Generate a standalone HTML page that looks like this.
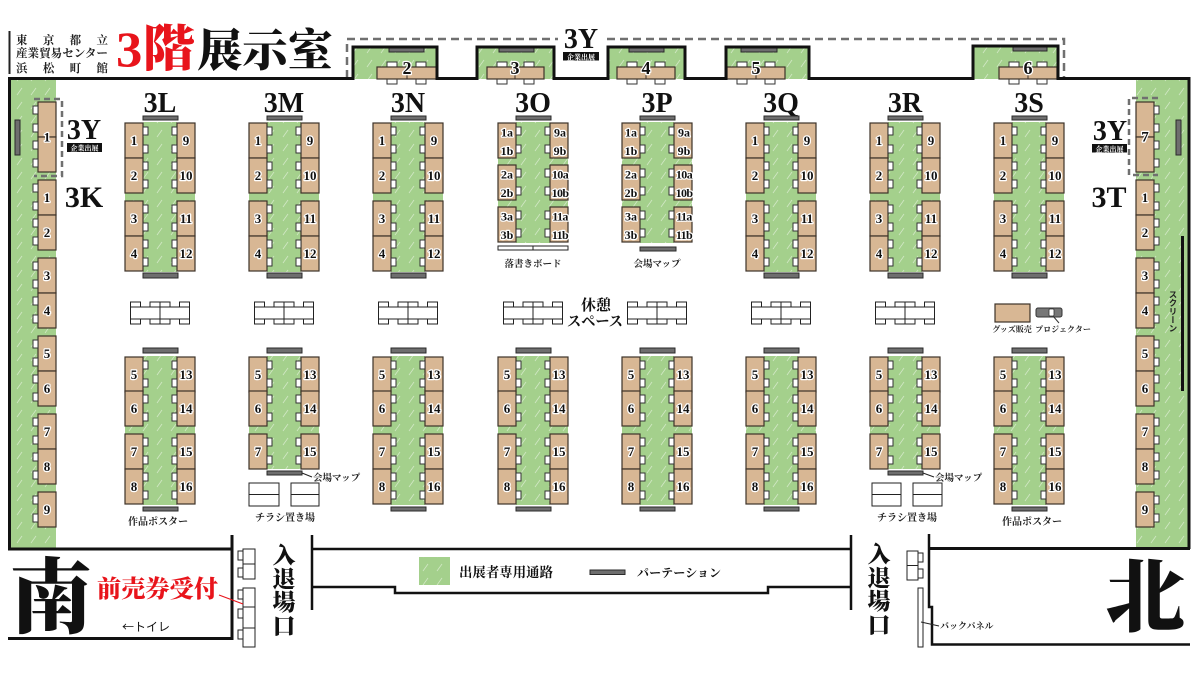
<!DOCTYPE html>
<html><head><meta charset="utf-8"><style>
html,body{margin:0;padding:0;background:#fff;}
svg{display:block}
.d{fill:#d8b794;stroke:#3d3228;stroke-width:1.2}
.c{fill:#fff;stroke:#333;stroke-width:1}
.p{fill:#6e6e6e;stroke:#2a2a2a;stroke-width:1}
.g{fill:url(#gp)}
.n{font-family:"Liberation Serif","Noto Serif CJK SC",serif;font-weight:bold;font-size:13px;text-anchor:middle;fill:#111;stroke:#fff;stroke-width:2.5px;paint-order:stroke;stroke-linejoin:round}
.n2{font-family:"Liberation Serif","Noto Serif CJK SC",serif;font-weight:bold;font-size:12px;text-anchor:middle;fill:#111;stroke:#fff;stroke-width:2.5px;paint-order:stroke;stroke-linejoin:round}
.big{font-family:"Liberation Serif","Noto Serif CJK SC",serif;font-weight:bold;font-size:28px;text-anchor:middle;fill:#111}
.s{font-family:"Liberation Serif","Noto Serif CJK SC",serif;font-weight:bold;font-size:10px;fill:#222}
.sm{text-anchor:middle}
.w{fill:none;stroke:#111;stroke-width:3}
.w2{fill:none;stroke:#111;stroke-width:2.5}
.dash{fill:none;stroke:#707070;stroke-width:2.5;stroke-dasharray:8 5}
.tb{fill:#fff;stroke:#222;stroke-width:1}
</style></head><body>
<svg width="1200" height="675" viewBox="0 0 1200 675" xmlns="http://www.w3.org/2000/svg">
<defs>
<pattern id="gp" width="14" height="14" patternUnits="userSpaceOnUse"><rect width="14" height="14" fill="#a4d08c"/><path d="M3,11 L8,4" stroke="#ffffff" stroke-opacity=".5" stroke-width=".8"/></pattern>
<g id="bL"><rect x="0" y="0" width="18" height="35" fill="#d8b794" stroke="#3d3228" stroke-width="1.2"/><rect x="18" y="4" width="5" height="8" fill="#fff" stroke="#333" stroke-width="1"/><rect x="18" y="22" width="5" height="8" fill="#fff" stroke="#333" stroke-width="1"/></g>
<g id="bR"><rect x="0" y="0" width="18" height="35" fill="#d8b794" stroke="#3d3228" stroke-width="1.2"/><rect x="-5" y="4" width="5" height="8" fill="#fff" stroke="#333" stroke-width="1"/><rect x="-5" y="22" width="5" height="8" fill="#fff" stroke="#333" stroke-width="1"/></g>
<g id="rest" fill="#fff" stroke="#222" stroke-width="1">
<rect x="0" y="0" width="10" height="5"/><rect x="19.5" y="0" width="10" height="5"/><rect x="29.5" y="0" width="10" height="5"/><rect x="49" y="0" width="10" height="5"/>
<rect x="0" y="17" width="10" height="5"/><rect x="19.5" y="17" width="10" height="5"/><rect x="29.5" y="17" width="10" height="5"/><rect x="49" y="17" width="10" height="5"/>
<rect x="0" y="5" width="29.5" height="12"/><rect x="29.5" y="5" width="29.5" height="12"/>
</g>
</defs>

<!-- ===== Header ===== -->
<rect x="8.5" y="31" width="2" height="43" fill="#222"/>
<g font-family="'Liberation Serif','Noto Serif CJK SC',serif" font-weight="bold" font-size="11.5" fill="#222">
<text x="16" y="44" textLength="92" lengthAdjust="spacing">東京都立</text>
<text x="16" y="57" textLength="92" lengthAdjust="spacingAndGlyphs">産業貿易センター</text>
<text x="16" y="72" textLength="92" lengthAdjust="spacing">浜松町館</text>
</g>
<text x="116" y="66" font-family="'Liberation Serif','Noto Serif CJK SC',serif" font-weight="900" font-size="50" fill="#e8141b" textLength="79" lengthAdjust="spacingAndGlyphs">3階</text>
<text x="197" y="66" font-family="'Noto Serif CJK SC',serif" font-weight="900" font-size="45" fill="#111" textLength="136" lengthAdjust="spacingAndGlyphs">展示室</text>

<!-- ===== Green areas ===== -->
<rect x="10" y="78" width="46" height="470" class="g"/>
<rect x="1136" y="78" width="53" height="470" class="g"/>
<rect x="353" y="47" width="84" height="32" class="g"/>
<rect x="477" y="47" width="77" height="32" class="g"/>
<rect x="608" y="47" width="77" height="32" class="g"/>
<rect x="726" y="47" width="83" height="32" class="g"/>
<rect x="973" y="46" width="85" height="33" class="g"/>

<!-- top dashed 3Y -->
<path d="M347,78 V39 H1064 V78" class="dash"/>
<rect x="558" y="28" width="46" height="34" fill="#fff"/>
<text x="581" y="48" class="big">3Y</text>
<rect x="563" y="52" width="36" height="8.5" fill="#111"/>
<text x="581" y="59.3" font-family="'Noto Serif CJK SC',serif" font-weight="bold" font-size="7" fill="#fff" text-anchor="middle">企業出展</text>

<!-- alcove partitions -->
<rect x="389" y="48" width="35" height="4" class="p"/>
<rect x="499" y="48" width="35" height="4" class="p"/>
<rect x="629" y="48" width="35" height="4" class="p"/>
<rect x="741" y="48" width="36" height="4" class="p"/>
<rect x="1013" y="47" width="34" height="4" class="p"/>

<!-- alcove desks -->
<g>
<rect x="387" y="62" width="10" height="5" class="c"/><rect x="416" y="62" width="10" height="5" class="c"/><rect x="387" y="79" width="10" height="5" class="c"/><rect x="416" y="79" width="10" height="5" class="c"/>
<rect x="377" y="67" width="60" height="12" class="d"/><line x1="407" y1="67" x2="407" y2="79" stroke="#3d3228"/>
<rect x="497" y="62" width="10" height="5" class="c"/><rect x="524" y="62" width="10" height="5" class="c"/><rect x="497" y="79" width="10" height="5" class="c"/><rect x="524" y="79" width="10" height="5" class="c"/>
<rect x="487" y="67" width="57" height="12" class="d"/><line x1="515" y1="67" x2="515" y2="79" stroke="#3d3228"/>
<rect x="627" y="62" width="10" height="5" class="c"/><rect x="655" y="62" width="10" height="5" class="c"/><rect x="627" y="79" width="10" height="5" class="c"/><rect x="655" y="79" width="10" height="5" class="c"/>
<rect x="617" y="67" width="58" height="12" class="d"/><line x1="646" y1="67" x2="646" y2="79" stroke="#3d3228"/>
<rect x="737" y="62" width="10" height="5" class="c"/><rect x="765" y="62" width="10" height="5" class="c"/><rect x="737" y="79" width="10" height="5" class="c"/><rect x="765" y="79" width="10" height="5" class="c"/>
<rect x="727" y="67" width="58" height="12" class="d"/><line x1="756" y1="67" x2="756" y2="79" stroke="#3d3228"/>
<rect x="1009" y="62" width="10" height="5" class="c"/><rect x="1037" y="62" width="10" height="5" class="c"/><rect x="1009" y="79" width="10" height="5" class="c"/><rect x="1037" y="79" width="10" height="5" class="c"/>
<rect x="999" y="67" width="58" height="12" class="d"/><line x1="1028" y1="67" x2="1028" y2="79" stroke="#3d3228"/>
</g>
<g class="n" style="font-size:18px">
<text x="407" y="74">2</text><text x="515" y="74">3</text><text x="646" y="74">4</text><text x="756" y="74">5</text><text x="1028" y="74">6</text>
</g>

<!-- ===== Left wall column ===== -->
<rect x="15" y="120" width="5" height="35" class="p"/>
<use href="#bR" x="38" y="102"/><use href="#bR" x="38" y="137"/>
<use href="#bR" x="38" y="180"/><use href="#bR" x="38" y="215"/>
<use href="#bR" x="38" y="258"/><use href="#bR" x="38" y="293"/>
<use href="#bR" x="38" y="336"/><use href="#bR" x="38" y="371"/>
<use href="#bR" x="38" y="414"/><use href="#bR" x="38" y="449"/>
<use href="#bR" x="38" y="492"/>
<path d="M34,99 H62 V176 H34" class="dash" style="stroke-dasharray:6 4"/>
<g class="n">
<text x="47" y="141.5">1</text>
<text x="47" y="202">1</text><text x="47" y="237">2</text><text x="47" y="280">3</text><text x="47" y="315">4</text>
<text x="47" y="358">5</text><text x="47" y="393">6</text><text x="47" y="436">7</text><text x="47" y="471">8</text><text x="47" y="514">9</text>
</g>
<text x="84" y="139" class="big">3Y</text>
<rect x="67" y="143" width="35" height="9" fill="#111"/>
<text x="84.5" y="150.5" font-family="'Noto Serif CJK SC',serif" font-weight="bold" font-size="7" fill="#fff" text-anchor="middle">企業出展</text>
<text x="84" y="207" class="big" style="font-size:30px">3K</text>

<!-- ===== Right wall column ===== -->
<rect x="1176" y="120" width="5" height="35" class="p"/>
<use href="#bL" x="1136" y="102"/><use href="#bL" x="1136" y="137"/>
<use href="#bL" x="1136" y="180"/><use href="#bL" x="1136" y="215"/>
<use href="#bL" x="1136" y="258"/><use href="#bL" x="1136" y="293"/>
<use href="#bL" x="1136" y="336"/><use href="#bL" x="1136" y="371"/>
<use href="#bL" x="1136" y="414"/><use href="#bL" x="1136" y="449"/>
<use href="#bL" x="1136" y="492"/>
<path d="M1158,98 H1129 V175 H1158" class="dash" style="stroke-dasharray:6 4"/>
<g class="n">
<text x="1145" y="141.5" style="font-size:15px">7</text>
<text x="1145" y="202">1</text><text x="1145" y="237">2</text><text x="1145" y="280">3</text><text x="1145" y="315">4</text>
<text x="1145" y="358">5</text><text x="1145" y="393">6</text><text x="1145" y="436">7</text><text x="1145" y="471">8</text><text x="1145" y="514">9</text>
</g>
<text x="1110" y="140" class="big">3Y</text>
<rect x="1092" y="144" width="35" height="8.5" fill="#111"/>
<text x="1109.5" y="151.3" font-family="'Noto Serif CJK SC',serif" font-weight="bold" font-size="7" fill="#fff" text-anchor="middle">企業出展</text>
<text x="1109" y="207" class="big" style="font-size:30px">3T</text>
<rect x="1181" y="236" width="3" height="155" fill="#111"/>
<text x="1173" y="290" font-family="'Noto Sans CJK JP',sans-serif" font-weight="bold" font-size="8.5" fill="#222" style="writing-mode:vertical-rl">スクリーン</text>

<!-- ===== Column labels ===== -->
<g class="big">
<text x="160" y="112">3L</text><text x="284" y="112">3M</text><text x="408" y="112">3N</text><text x="533" y="112">3O</text>
<text x="657" y="112">3P</text><text x="781" y="112">3Q</text><text x="905" y="112">3R</text><text x="1029" y="112">3S</text>
</g>

<!-- ===== Upper blocks (normal) ===== -->
<!-- L -->
<rect x="143" y="122" width="34" height="150" class="g"/><rect x="125" y="193" width="70" height="8" class="g"/>
<rect x="143" y="116" width="35" height="4" class="p"/><rect x="143" y="273" width="35" height="5" class="p"/>
<use href="#bL" x="125" y="123"/><use href="#bL" x="125" y="158"/><use href="#bL" x="125" y="201"/><use href="#bL" x="125" y="236"/>
<use href="#bR" x="177" y="123"/><use href="#bR" x="177" y="158"/><use href="#bR" x="177" y="201"/><use href="#bR" x="177" y="236"/>
<!-- M -->
<rect x="267" y="122" width="34" height="150" class="g"/><rect x="249" y="193" width="70" height="8" class="g"/>
<rect x="267" y="116" width="35" height="4" class="p"/><rect x="267" y="273" width="35" height="5" class="p"/>
<use href="#bL" x="249" y="123"/><use href="#bL" x="249" y="158"/><use href="#bL" x="249" y="201"/><use href="#bL" x="249" y="236"/>
<use href="#bR" x="301" y="123"/><use href="#bR" x="301" y="158"/><use href="#bR" x="301" y="201"/><use href="#bR" x="301" y="236"/>
<!-- N -->
<rect x="391" y="122" width="34" height="150" class="g"/><rect x="373" y="193" width="70" height="8" class="g"/>
<rect x="391" y="116" width="35" height="4" class="p"/><rect x="391" y="273" width="35" height="5" class="p"/>
<use href="#bL" x="373" y="123"/><use href="#bL" x="373" y="158"/><use href="#bL" x="373" y="201"/><use href="#bL" x="373" y="236"/>
<use href="#bR" x="425" y="123"/><use href="#bR" x="425" y="158"/><use href="#bR" x="425" y="201"/><use href="#bR" x="425" y="236"/>
<!-- Q -->
<rect x="764" y="122" width="34" height="150" class="g"/><rect x="746" y="193" width="70" height="8" class="g"/>
<rect x="764" y="116" width="35" height="4" class="p"/><rect x="764" y="273" width="35" height="5" class="p"/>
<use href="#bL" x="746" y="123"/><use href="#bL" x="746" y="158"/><use href="#bL" x="746" y="201"/><use href="#bL" x="746" y="236"/>
<use href="#bR" x="798" y="123"/><use href="#bR" x="798" y="158"/><use href="#bR" x="798" y="201"/><use href="#bR" x="798" y="236"/>
<!-- R -->
<rect x="888" y="122" width="34" height="150" class="g"/><rect x="870" y="193" width="70" height="8" class="g"/>
<rect x="888" y="116" width="35" height="4" class="p"/><rect x="888" y="273" width="35" height="5" class="p"/>
<use href="#bL" x="870" y="123"/><use href="#bL" x="870" y="158"/><use href="#bL" x="870" y="201"/><use href="#bL" x="870" y="236"/>
<use href="#bR" x="922" y="123"/><use href="#bR" x="922" y="158"/><use href="#bR" x="922" y="201"/><use href="#bR" x="922" y="236"/>
<!-- S -->
<rect x="1012" y="122" width="34" height="150" class="g"/><rect x="994" y="193" width="70" height="8" class="g"/>
<rect x="1012" y="116" width="35" height="4" class="p"/><rect x="1012" y="273" width="35" height="5" class="p"/>
<use href="#bL" x="994" y="123"/><use href="#bL" x="994" y="158"/><use href="#bL" x="994" y="201"/><use href="#bL" x="994" y="236"/>
<use href="#bR" x="1046" y="123"/><use href="#bR" x="1046" y="158"/><use href="#bR" x="1046" y="201"/><use href="#bR" x="1046" y="236"/>

<g class="n">
<text x="134" y="145">1</text><text x="134" y="180">2</text><text x="134" y="223">3</text><text x="134" y="258">4</text>
<text x="186" y="145">9</text><text x="186" y="180">10</text><text x="186" y="223">11</text><text x="186" y="258">12</text>
<text x="258" y="145">1</text><text x="258" y="180">2</text><text x="258" y="223">3</text><text x="258" y="258">4</text>
<text x="310" y="145">9</text><text x="310" y="180">10</text><text x="310" y="223">11</text><text x="310" y="258">12</text>
<text x="382" y="145">1</text><text x="382" y="180">2</text><text x="382" y="223">3</text><text x="382" y="258">4</text>
<text x="434" y="145">9</text><text x="434" y="180">10</text><text x="434" y="223">11</text><text x="434" y="258">12</text>
<text x="755" y="145">1</text><text x="755" y="180">2</text><text x="755" y="223">3</text><text x="755" y="258">4</text>
<text x="807" y="145">9</text><text x="807" y="180">10</text><text x="807" y="223">11</text><text x="807" y="258">12</text>
<text x="879" y="145">1</text><text x="879" y="180">2</text><text x="879" y="223">3</text><text x="879" y="258">4</text>
<text x="931" y="145">9</text><text x="931" y="180">10</text><text x="931" y="223">11</text><text x="931" y="258">12</text>
<text x="1003" y="145">1</text><text x="1003" y="180">2</text><text x="1003" y="223">3</text><text x="1003" y="258">4</text>
<text x="1055" y="145">9</text><text x="1055" y="180">10</text><text x="1055" y="223">11</text><text x="1055" y="258">12</text>
</g>

<!-- ===== Upper blocks 3O / 3P ===== -->
<rect x="516" y="122" width="34" height="121" class="g"/><rect x="498" y="158" width="70" height="7" class="g"/><rect x="498" y="200" width="70" height="7" class="g"/>
<rect x="516" y="116" width="35" height="4" class="p"/>
<use href="#bL" x="498" y="123"/><use href="#bL" x="498" y="165"/><use href="#bL" x="498" y="207"/>
<use href="#bR" x="550" y="123"/><use href="#bR" x="550" y="165"/><use href="#bR" x="550" y="207"/>
<rect x="498" y="246" width="35" height="4" class="tb"/><rect x="533" y="246" width="35" height="4" class="tb"/>

<rect x="640" y="122" width="34" height="121" class="g"/><rect x="622" y="158" width="70" height="7" class="g"/><rect x="622" y="200" width="70" height="7" class="g"/>
<rect x="640" y="116" width="35" height="4" class="p"/>
<use href="#bL" x="622" y="123"/><use href="#bL" x="622" y="165"/><use href="#bL" x="622" y="207"/>
<use href="#bR" x="674" y="123"/><use href="#bR" x="674" y="165"/><use href="#bR" x="674" y="207"/>
<rect x="640" y="247" width="36" height="4" class="p"/>

<g class="n2">
<text x="507" y="136.5">1a</text><text x="507" y="155">1b</text><text x="507" y="178.5">2a</text><text x="507" y="197">2b</text><text x="507" y="220.5">3a</text><text x="507" y="239">3b</text>
<text x="560" y="136.5">9a</text><text x="560" y="155">9b</text><text x="560" y="178.5" letter-spacing="-0.6">10a</text><text x="560" y="197" letter-spacing="-0.6">10b</text><text x="560" y="220.5" letter-spacing="-0.6">11a</text><text x="560" y="239" letter-spacing="-0.6">11b</text>
<text x="631" y="136.5">1a</text><text x="631" y="155">1b</text><text x="631" y="178.5">2a</text><text x="631" y="197">2b</text><text x="631" y="220.5">3a</text><text x="631" y="239">3b</text>
<text x="684" y="136.5">9a</text><text x="684" y="155">9b</text><text x="684" y="178.5" letter-spacing="-0.6">10a</text><text x="684" y="197" letter-spacing="-0.6">10b</text><text x="684" y="220.5" letter-spacing="-0.6">11a</text><text x="684" y="239" letter-spacing="-0.6">11b</text>
</g>
<text x="533" y="267" class="s sm" style="font-size:9.5px">落書きボード</text>
<text x="657" y="267" class="s sm" style="font-size:9.5px">会場マップ</text>

<!-- ===== Rest area ===== -->
<use href="#rest" x="130.5" y="302"/>
<use href="#rest" x="254.5" y="302"/>
<use href="#rest" x="378.5" y="302"/>
<use href="#rest" x="503.5" y="302"/>
<use href="#rest" x="627.5" y="302"/>
<use href="#rest" x="751.5" y="302"/>
<use href="#rest" x="875.5" y="302"/>
<g font-family="'Noto Serif CJK SC',serif" font-weight="bold" font-size="15" fill="#111" text-anchor="middle">
<text x="596" y="310">休憩</text>
<text x="595" y="326" textLength="56" lengthAdjust="spacingAndGlyphs">スペース</text>
</g>
<rect x="995" y="304" width="35" height="18" class="d"/>
<rect x="1036" y="308" width="26" height="9" rx="2" fill="#777" stroke="#333" stroke-width="1"/>
<rect x="1049" y="309" width="5" height="7" rx="1" fill="#fff" stroke="#333" stroke-width="0.8"/>
<line x1="1053" y1="316" x2="1059" y2="323" stroke="#333" stroke-width="1"/>
<text x="1012" y="332" class="s sm" style="font-size:8px">グッズ販売</text>
<text x="1063" y="332" class="s sm" style="font-size:8px">プロジェクター</text>

<!-- ===== Lower blocks ===== -->
<!-- L full -->
<rect x="143" y="356" width="34" height="149" class="g"/><rect x="125" y="426" width="70" height="8" class="g"/>
<rect x="143" y="348" width="35" height="5" class="p"/><rect x="143" y="507" width="35" height="4" class="p"/>
<use href="#bL" x="125" y="357"/><use href="#bL" x="125" y="391"/><use href="#bL" x="125" y="434"/><use href="#bL" x="125" y="469"/>
<use href="#bR" x="177" y="357"/><use href="#bR" x="177" y="391"/><use href="#bR" x="177" y="434"/><use href="#bR" x="177" y="469"/>
<!-- M short -->
<rect x="267" y="356" width="34" height="113" class="g"/><rect x="249" y="426" width="70" height="8" class="g"/>
<rect x="267" y="348" width="35" height="5" class="p"/><rect x="267" y="471" width="35" height="4" class="p"/>
<use href="#bL" x="249" y="357"/><use href="#bL" x="249" y="391"/><use href="#bL" x="249" y="434"/>
<use href="#bR" x="301" y="357"/><use href="#bR" x="301" y="391"/><use href="#bR" x="301" y="434"/>
<!-- N full -->
<rect x="391" y="356" width="34" height="149" class="g"/><rect x="373" y="426" width="70" height="8" class="g"/>
<rect x="391" y="348" width="35" height="5" class="p"/><rect x="391" y="507" width="35" height="4" class="p"/>
<use href="#bL" x="373" y="357"/><use href="#bL" x="373" y="391"/><use href="#bL" x="373" y="434"/><use href="#bL" x="373" y="469"/>
<use href="#bR" x="425" y="357"/><use href="#bR" x="425" y="391"/><use href="#bR" x="425" y="434"/><use href="#bR" x="425" y="469"/>
<!-- O full -->
<rect x="516" y="356" width="34" height="149" class="g"/><rect x="498" y="426" width="70" height="8" class="g"/>
<rect x="516" y="348" width="35" height="5" class="p"/><rect x="516" y="507" width="35" height="4" class="p"/>
<use href="#bL" x="498" y="357"/><use href="#bL" x="498" y="391"/><use href="#bL" x="498" y="434"/><use href="#bL" x="498" y="469"/>
<use href="#bR" x="550" y="357"/><use href="#bR" x="550" y="391"/><use href="#bR" x="550" y="434"/><use href="#bR" x="550" y="469"/>
<!-- P full -->
<rect x="640" y="356" width="34" height="149" class="g"/><rect x="622" y="426" width="70" height="8" class="g"/>
<rect x="640" y="348" width="35" height="5" class="p"/><rect x="640" y="507" width="35" height="4" class="p"/>
<use href="#bL" x="622" y="357"/><use href="#bL" x="622" y="391"/><use href="#bL" x="622" y="434"/><use href="#bL" x="622" y="469"/>
<use href="#bR" x="674" y="357"/><use href="#bR" x="674" y="391"/><use href="#bR" x="674" y="434"/><use href="#bR" x="674" y="469"/>
<!-- Q full -->
<rect x="764" y="356" width="34" height="149" class="g"/><rect x="746" y="426" width="70" height="8" class="g"/>
<rect x="764" y="348" width="35" height="5" class="p"/><rect x="764" y="507" width="35" height="4" class="p"/>
<use href="#bL" x="746" y="357"/><use href="#bL" x="746" y="391"/><use href="#bL" x="746" y="434"/><use href="#bL" x="746" y="469"/>
<use href="#bR" x="798" y="357"/><use href="#bR" x="798" y="391"/><use href="#bR" x="798" y="434"/><use href="#bR" x="798" y="469"/>
<!-- R short -->
<rect x="888" y="356" width="34" height="113" class="g"/><rect x="870" y="426" width="70" height="8" class="g"/>
<rect x="888" y="348" width="35" height="5" class="p"/><rect x="888" y="471" width="35" height="4" class="p"/>
<use href="#bL" x="870" y="357"/><use href="#bL" x="870" y="391"/><use href="#bL" x="870" y="434"/>
<use href="#bR" x="922" y="357"/><use href="#bR" x="922" y="391"/><use href="#bR" x="922" y="434"/>
<!-- S full -->
<rect x="1012" y="356" width="34" height="149" class="g"/><rect x="994" y="426" width="70" height="8" class="g"/>
<rect x="1012" y="348" width="35" height="5" class="p"/><rect x="1012" y="507" width="35" height="4" class="p"/>
<use href="#bL" x="994" y="357"/><use href="#bL" x="994" y="391"/><use href="#bL" x="994" y="434"/><use href="#bL" x="994" y="469"/>
<use href="#bR" x="1046" y="357"/><use href="#bR" x="1046" y="391"/><use href="#bR" x="1046" y="434"/><use href="#bR" x="1046" y="469"/>

<g class="n">
<text x="134" y="379">5</text><text x="134" y="413">6</text><text x="134" y="456">7</text><text x="134" y="491">8</text>
<text x="186" y="379">13</text><text x="186" y="413">14</text><text x="186" y="456">15</text><text x="186" y="491">16</text>
<text x="258" y="379">5</text><text x="258" y="413">6</text><text x="258" y="456">7</text>
<text x="310" y="379">13</text><text x="310" y="413">14</text><text x="310" y="456">15</text>
<text x="382" y="379">5</text><text x="382" y="413">6</text><text x="382" y="456">7</text><text x="382" y="491">8</text>
<text x="434" y="379">13</text><text x="434" y="413">14</text><text x="434" y="456">15</text><text x="434" y="491">16</text>
<text x="507" y="379">5</text><text x="507" y="413">6</text><text x="507" y="456">7</text><text x="507" y="491">8</text>
<text x="559" y="379">13</text><text x="559" y="413">14</text><text x="559" y="456">15</text><text x="559" y="491">16</text>
<text x="631" y="379">5</text><text x="631" y="413">6</text><text x="631" y="456">7</text><text x="631" y="491">8</text>
<text x="683" y="379">13</text><text x="683" y="413">14</text><text x="683" y="456">15</text><text x="683" y="491">16</text>
<text x="755" y="379">5</text><text x="755" y="413">6</text><text x="755" y="456">7</text><text x="755" y="491">8</text>
<text x="807" y="379">13</text><text x="807" y="413">14</text><text x="807" y="456">15</text><text x="807" y="491">16</text>
<text x="879" y="379">5</text><text x="879" y="413">6</text><text x="879" y="456">7</text>
<text x="931" y="379">13</text><text x="931" y="413">14</text><text x="931" y="456">15</text>
<text x="1003" y="379">5</text><text x="1003" y="413">6</text><text x="1003" y="456">7</text><text x="1003" y="491">8</text>
<text x="1055" y="379">13</text><text x="1055" y="413">14</text><text x="1055" y="456">15</text><text x="1055" y="491">16</text>
</g>

<!-- lower labels & flyer tables -->
<text x="158" y="525" class="s sm">作品ポスター</text>
<text x="1032" y="525" class="s sm">作品ポスター</text>
<line x1="302" y1="473" x2="312" y2="477" stroke="#222" stroke-width="1"/>
<text x="313" y="481" class="s" style="font-size:9.5px">会場マップ</text>
<line x1="923" y1="473" x2="934" y2="477" stroke="#222" stroke-width="1"/>
<text x="935" y="481" class="s" style="font-size:9.5px">会場マップ</text>
<rect x="249" y="483" width="30" height="23" class="tb"/><line x1="249" y1="494.5" x2="279" y2="494.5" stroke="#222"/>
<rect x="291" y="483" width="28" height="23" class="tb"/><line x1="291" y1="494.5" x2="319" y2="494.5" stroke="#222"/>
<rect x="872" y="483" width="29" height="23" class="tb"/><line x1="872" y1="494.5" x2="901" y2="494.5" stroke="#222"/>
<rect x="913" y="483" width="29" height="23" class="tb"/><line x1="913" y1="494.5" x2="942" y2="494.5" stroke="#222"/>
<text x="285" y="521" class="s sm" textLength="60" lengthAdjust="spacing">チラシ置き場</text>
<text x="907" y="521" class="s sm" textLength="60" lengthAdjust="spacing">チラシ置き場</text>

<!-- ===== Walls ===== -->
<path d="M9.5,549 V78.5 H353 V47 H437 V78.5 H477 V47 H554 V78.5 H608 V47 H685 V78.5 H726 V47 H809 V78.5 H973 V46 H1058 V78.5 H1189 V549" class="w"/>
<path d="M8,549 H232" class="w"/>
<path d="M929,548.5 H1190" class="w"/>
<!-- south room -->
<path d="M8,638.5 H232 M232,535 V640" class="w"/>
<!-- corridor -->
<path d="M312,535 V610 M312,549 H851 M312,587 H395 V593 H768 V587 H851 M851,535 V610" class="w2"/>
<!-- north room -->
<path d="M929,534 V607 H932 V644.5 H1190" class="w2"/>

<!-- reception tables south -->
<rect x="243" y="549" width="12" height="30" class="tb"/><line x1="243" y1="564" x2="255" y2="564" stroke="#222"/>
<rect x="238" y="551" width="5" height="9" class="tb"/><rect x="238" y="568" width="5" height="9" class="tb"/>
<rect x="243" y="588" width="12" height="59" class="tb"/><line x1="243" y1="607" x2="255" y2="607" stroke="#222"/><line x1="243" y1="628" x2="255" y2="628" stroke="#222"/>
<rect x="238" y="590" width="5" height="9" class="tb"/><rect x="238" y="609" width="5" height="9" class="tb"/><rect x="238" y="630" width="5" height="9" class="tb"/>

<!-- north table and back panel -->
<rect x="907" y="551" width="11" height="29" class="tb"/><line x1="907" y1="565.5" x2="918" y2="565.5" stroke="#222"/>
<rect x="918" y="553" width="5" height="9" class="tb"/><rect x="918" y="569" width="5" height="9" class="tb"/>
<rect x="918" y="588" width="5" height="59" class="tb"/>
<line x1="921" y1="622" x2="939" y2="626" stroke="#222" stroke-width="1"/>
<text x="940" y="629" class="s" style="font-size:9px">バックパネル</text>

<!-- legend -->
<rect x="419" y="557" width="31" height="28" class="g"/>
<text x="459" y="577" font-family="'Noto Serif CJK SC',serif" font-weight="bold" font-size="13.5" fill="#111" textLength="94" lengthAdjust="spacingAndGlyphs">出展者専用通路</text>
<rect x="590" y="570" width="35" height="4.5" class="p"/>
<text x="637" y="577" font-family="'Noto Serif CJK SC',serif" font-weight="bold" font-size="12" fill="#111" textLength="84" lengthAdjust="spacing">パーテーション</text>

<!-- entrances -->
<g font-family="'Noto Serif CJK SC',serif" font-weight="900" font-size="23" fill="#111" text-anchor="middle">
<text><tspan x="284" y="563">入</tspan><tspan x="284" y="587">退</tspan><tspan x="284" y="610">場</tspan><tspan x="284" y="634">口</tspan></text>
<text><tspan x="879" y="562">入</tspan><tspan x="879" y="586">退</tspan><tspan x="879" y="609">場</tspan><tspan x="879" y="633">口</tspan></text>
</g>

<!-- South / North -->
<text x="51" y="626" font-family="'Noto Serif CJK SC',serif" font-weight="900" font-size="82" fill="#111" text-anchor="middle">南</text>
<text x="1145" y="625" font-family="'Noto Serif CJK SC',serif" font-weight="900" font-size="80" fill="#111" text-anchor="middle">北</text>
<text x="97" y="597" font-family="'Noto Serif CJK SC',serif" font-weight="900" font-size="24" fill="#e8141b" textLength="121" lengthAdjust="spacingAndGlyphs">前売券受付</text>
<line x1="219" y1="595" x2="243" y2="604" stroke="#e8141b" stroke-width="1.2"/>
<text x="122" y="631" font-family="'Noto Sans CJK JP',sans-serif" font-size="12" fill="#111">←トイレ</text>
</svg>
</body></html>
